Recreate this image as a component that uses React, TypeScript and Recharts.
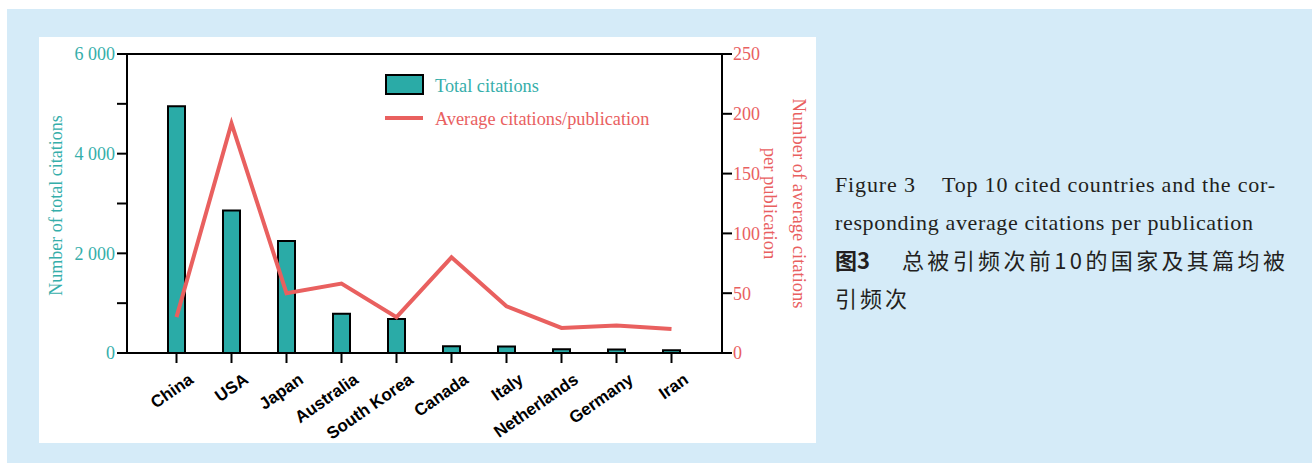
import { ComposedChart, Bar, Line, XAxis, YAxis, ReferenceLine, Legend } from "recharts";

const countries = ["China", "USA", "Japan", "Australia", "South Korea", "Canada", "Italy", "Netherlands", "Germany", "Iran"];
const totalCitations = [4950, 2860, 2250, 790, 680, 135, 130, 75, 70, 55];
const avgCitations = [30, 192, 50, 58, 30, 80, 39, 21, 23, 20];
const leftTicks = [0, 1000, 2000, 3000, 4000, 5000, 6000];
const rightTicks = [0, 50, 100, 150, 200, 250];

const data = countries.map((country, i) => ({
  country,
  total: totalCitations[i],
  avg: avgCitations[i],
}));

const TEAL = "#2aaba7";
const TEAL_TEXT = "#35aeaa";
const RED = "#e9605f";
const SERIF = "'Liberation Serif', 'Times New Roman', serif";

const fmtThousands = (v: number) => {
  if (v % 2000 !== 0) return "";
  if (v === 0) return "0";
  return `${Math.floor(v / 1000)} ${String(v % 1000).padStart(3, "0")}`;
};

const CountryTick = ({ x, y, payload }: any) => {
  const ax = x + 18;
  const ay = y + 17;
  return (
    <text
      x={ax}
      y={ay}
      textAnchor="end"
      transform={`rotate(-35, ${ax}, ${ay})`}
      fontFamily="'Liberation Sans', Arial, sans-serif"
      fontWeight="bold"
      fontSize={17}
      fill="#000"
    >
      {payload.value}
    </text>
  );
};

const LeftTitle = ({ viewBox }: any) => {
  const cx = viewBox.x - 11;
  const cy = viewBox.y + viewBox.height / 2 + 2;
  return (
    <text
      x={cx}
      y={cy}
      transform={`rotate(-90, ${cx}, ${cy})`}
      textAnchor="middle"
      dominantBaseline="central"
      fill={TEAL_TEXT}
      fontFamily={SERIF}
      fontSize={18}
    >
      Number of total citations
    </text>
  );
};

const RightTitle = ({ viewBox }: any) => {
  const cy = viewBox.y + viewBox.height / 2;
  const x1 = viewBox.x + 77;
  const x2 = viewBox.x + 48;
  return (
    <g fill={RED} fontFamily={SERIF} fontSize={18.5}>
      <text x={x1} y={cy} transform={`rotate(90, ${x1}, ${cy})`} textAnchor="middle" dominantBaseline="central">
        Number of average citations
      </text>
      <text x={x2} y={cy} transform={`rotate(90, ${x2}, ${cy})`} textAnchor="middle" dominantBaseline="central">
        per publication
      </text>
    </g>
  );
};

const LegendBox = () => (
  <svg width={300} height={64} style={{ display: "block" }}>
    <rect x={1} y={6} width={37} height={19} fill={TEAL} stroke="#000" strokeWidth={2} />
    <text x={50} y={23} fill={TEAL_TEXT} fontFamily={SERIF} fontSize={18.3}>
      Total citations
    </text>
    <line x1={0} x2={38} y1={49} y2={49} stroke={RED} strokeWidth={4} />
    <text x={50} y={56} fill={RED} fontFamily={SERIF} fontSize={18.3}>
      Average citations/publication
    </text>
  </svg>
);

const Caption = () => (
  <svg width={1312} height={463} style={{ position: "absolute", left: 0, top: 0 }}>
    <g fill="#231f20" fontFamily={SERIF} fontSize={22}>
      <text x={835} y={192} textLength={80} lengthAdjust="spacing">
        Figure 3
      </text>
      <text x={942} y={192} textLength={333} lengthAdjust="spacing">
        Top 10 cited countries and the cor-
      </text>
      <text x={835} y={230} textLength={418} lengthAdjust="spacing">
        responding average citations per publication
      </text>
    </g>
    <g fill="#231f20" fontFamily="'Noto Sans CJK SC', sans-serif" fontSize={22}>
      <text x={835} y={269} fontWeight="bold">
        图3
      </text>
      <text x={902} y={269} textLength={383} lengthAdjust="spacing">
        总被引频次前10的国家及其篇均被
      </text>
      <text x={835} y={307} letterSpacing={3}>
        引频次
      </text>
    </g>
  </svg>
);

export default function App() {
  return (
    <div style={{ position: "absolute", left: 0, top: 0, width: 1312, height: 463, background: "#fff", overflow: "hidden" }}>
      <div style={{ position: "absolute", left: 7, top: 9, width: 1305, height: 454, background: "#d5ebf8" }} />
      <div style={{ position: "absolute", left: 39, top: 37, width: 777, height: 406, background: "#fff" }} />
      <Caption />
      <div style={{ position: "absolute", left: 0, top: 0 }}>
        <ComposedChart width={816} height={463} data={data} margin={{ top: 54, left: 67, right: 34, bottom: 30 }}>
          <XAxis
            dataKey="country"
            xAxisId={0}
            interval={0}
            height={80}
            padding={{ left: 22, right: 23 }}
            axisLine={{ stroke: "#000", strokeWidth: 2 }}
            tickLine={{ stroke: "#000", strokeWidth: 2 }}
            tickSize={10}
            tick={<CountryTick />}
          />
          <YAxis
            yAxisId="left"
            domain={[0, 6000]}
            ticks={leftTicks}
            width={60}
            tickSize={10}
            tickMargin={2}
            interval={0}
            axisLine={{ stroke: "#000", strokeWidth: 2 }}
            tickLine={{ stroke: "#000", strokeWidth: 2 }}
            tick={{ fill: TEAL_TEXT, fontSize: 18, fontFamily: SERIF }}
            tickFormatter={fmtThousands}
            label={(p: any) => <LeftTitle {...p} />}
          />
          <YAxis
            yAxisId="right"
            orientation="right"
            domain={[0, 250]}
            ticks={rightTicks}
            width={60}
            tickSize={10}
            tickMargin={1}
            interval={0}
            axisLine={{ stroke: "#000", strokeWidth: 2 }}
            tickLine={{ stroke: "#000", strokeWidth: 2 }}
            tick={{ fill: RED, fontSize: 18, fontFamily: SERIF }}
            label={(p: any) => <RightTitle {...p} />}
          />
          <ReferenceLine yAxisId="left" y={6000} stroke="#000" strokeWidth={2} />
          <Legend
            layout="vertical"
            align="center"
            verticalAlign="middle"
            wrapperStyle={{ left: 385, top: 69, width: 300 }}
            content={() => <LegendBox />}
          />
          <Bar
            yAxisId="left"
            dataKey="total"
            name="Total citations"
            barSize={17}
            fill={TEAL}
            stroke="#000"
            strokeWidth={2}
            isAnimationActive={false}
          />
          <Line
            yAxisId="right"
            dataKey="avg"
            name="Average citations/publication"
            type="linear"
            stroke={RED}
            strokeWidth={4}
            dot={false}
            activeDot={false}
            isAnimationActive={false}
          />
        </ComposedChart>
      </div>
    </div>
  );
}
